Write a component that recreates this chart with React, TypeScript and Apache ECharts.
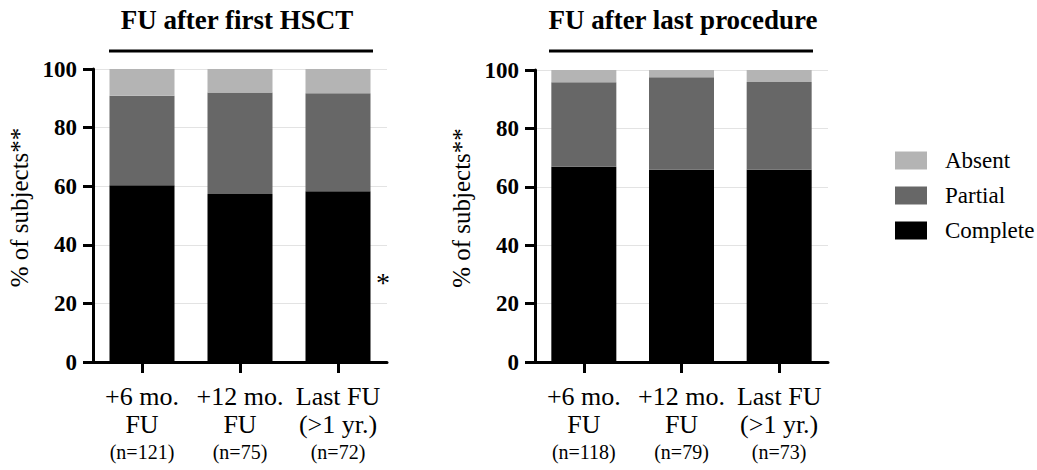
import React, { useEffect, useRef } from "react";
import * as echarts from "echarts";

const categoriesLeft = ["+6 mo.\nFU", "+12 mo.\nFU", "Last FU\n(>1 yr.)"];
const nLeft = [121, 75, 72];
const completeLeft = [60.3, 57.3, 58.3];
const partialLeft = [30.6, 34.7, 33.4];
const absentLeft = [9.1, 8.0, 8.3];

const categoriesRight = ["+6 mo.\nFU", "+12 mo.\nFU", "Last FU\n(>1 yr.)"];
const nRight = [118, 79, 73];
const completeRight = [66.9, 65.8, 65.8];
const partialRight = [28.9, 31.7, 30.1];
const absentRight = [4.2, 2.5, 4.1];

const seriesNames = ["Complete", "Partial", "Absent"];
const legendOrder = ["Absent", "Partial", "Complete"];
const colors: Record<string, string> = { Complete: "#000000", Partial: "#676767", Absent: "#b4b4b4" };

const yTicks = { min: 0, max: 100, interval: 20 };
const titles = ["FU after first HSCT", "FU after last procedure"];
const yName = "% of subjects**";

const FONT = '"Liberation Serif", "Times New Roman", serif';

export default function App() {
  const ref = useRef<HTMLDivElement>(null);
  useEffect(() => {
    if (!ref.current) return;
    const chart = echarts.init(ref.current, null, { renderer: "svg" });

    const grids = [
      { left: 93, top: 69, width: 294, height: 293 },
      { left: 535, top: 70, width: 293, height: 292 },
    ];
    const cats = [categoriesLeft, categoriesRight];
    const ns = [nLeft, nRight];
    const data = [
      [completeLeft, partialLeft, absentLeft],
      [completeRight, partialRight, absentRight],
    ];

    const xAxes = cats.map((c, i) => ({
      type: "category",
      gridIndex: i,
      data: c.map((lab, j) => {
        const parts = lab.split("\n");
        return `{a|${parts[0]}}\n{a|${parts[1]}}\n{b|(n=${ns[i][j]})}`;
      }),
      axisLine: { show: true, lineStyle: { color: "#000", width: 3 } },
      axisTick: { show: true, alignWithLabel: true, length: 11, lineStyle: { color: "#000", width: 3 } },
      axisLabel: {
        margin: 20,
        interval: 0,
        rich: {
          a: { fontFamily: FONT, fontSize: 26, color: "#000", lineHeight: 28 },
          b: { fontFamily: FONT, fontSize: 20, color: "#000", lineHeight: 28 },
        },
      },
      splitLine: { show: false },
    }));

    const yAxes = [0, 1].map((i) => ({
      type: "value",
      gridIndex: i,
      min: yTicks.min,
      max: yTicks.max,
      interval: yTicks.interval,
      name: yName,
      nameLocation: "middle",
      nameGap: 61,
      nameTextStyle: { fontFamily: FONT, fontSize: 25, color: "#000", padding: [0, 0, 0, 16] },
      axisLine: { show: true, lineStyle: { color: "#000", width: 3 } },
      axisTick: { show: true, length: 10, lineStyle: { color: "#000", width: 3 } },
      axisLabel: { margin: 16, fontFamily: FONT, fontSize: 23, fontWeight: "bold", color: "#000" },
      splitLine: { show: true, lineStyle: { color: "#e3e3e3", width: 1 } },
    }));

    const series: any[] = [];
    [0, 1].forEach((i) => {
      seriesNames.forEach((name, k) => {
        series.push({
          type: "bar",
          name,
          stack: "s" + i,
          xAxisIndex: i,
          yAxisIndex: i,
          barWidth: 65,
          itemStyle: { color: colors[name] },
          data: data[i][k],
        });
      });
    });

    chart.setOption({
      animation: false,
      backgroundColor: "#fff",
      title: [
        {
          text: titles[0], left: 232, top: 1, textAlign: "center",
          textStyle: { fontFamily: FONT, fontSize: 27, fontWeight: "bold", color: "#000" },
        },
        {
          text: titles[1], left: 678, top: 1, textAlign: "center",
          textStyle: { fontFamily: FONT, fontSize: 27, fontWeight: "bold", color: "#000" },
        },
      ],
      legend: {
        data: legendOrder,
        orient: "vertical",
        left: 895,
        top: 149,
        itemWidth: 32,
        itemHeight: 18,
        itemGap: 12,
        icon: "rect",
        padding: 0,
        textStyle: { fontFamily: FONT, fontSize: 23, color: "#000", lineHeight: 22, padding: [0, 0, 0, 13] },
      },
      grid: grids,
      xAxis: xAxes,
      yAxis: yAxes,
      series,
      graphic: [
        { type: "line", shape: { x1: 109, y1: 51, x2: 373, y2: 51 }, style: { stroke: "#000", lineWidth: 3 } },
        { type: "line", shape: { x1: 549, y1: 51, x2: 813, y2: 51 }, style: { stroke: "#000", lineWidth: 3 } },
        {
          type: "text", x: 383, y: 282,
          style: { text: "*", font: `28px ${FONT}`, fill: "#000", align: "center", verticalAlign: "middle" },
        },
      ],
    });
    return () => chart.dispose();
  }, []);
  return <div ref={ref} style={{ position: "absolute", left: 0, top: 0, width: 1037, height: 470 }} />;
}
